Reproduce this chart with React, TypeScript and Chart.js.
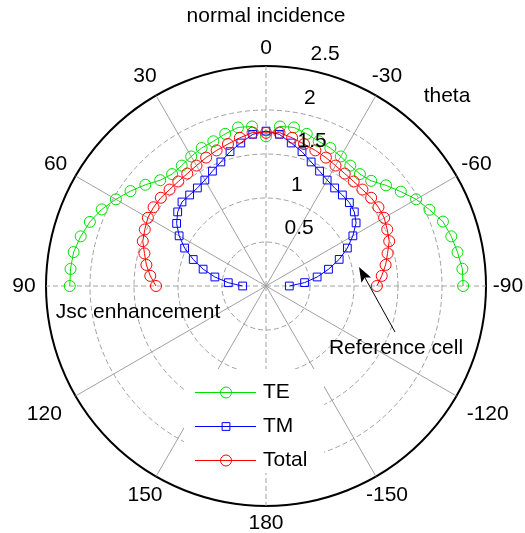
import React, { useEffect, useRef } from 'react';
import { Chart, registerables } from 'chart.js';

Chart.register(...registerables);

// Incidence angle (degrees), left half (+90 .. +5), normal (0), right half (-5 .. -90)
const thetaDeg = [
  90, 85, 80, 75, 70, 65, 60, 55, 50, 45, 40, 35, 30, 25, 20, 15, 10, 5,
  0,
  -5, -10, -15, -20, -25, -30, -35, -40, -45, -50, -55, -60, -65, -70, -75, -80, -85, -90,
];

const teValues = [
  2.23, 2.23, 2.22, 2.18, 2.13, 2.06, 1.97, 1.88, 1.79, 1.70, 1.66, 1.67, 1.70, 1.73, 1.75, 1.79, 1.83, 1.82,
  1.70,
  1.82, 1.83, 1.79, 1.75, 1.73, 1.70, 1.67, 1.66, 1.69, 1.78, 1.87, 1.97, 2.05, 2.14, 2.18, 2.21, 2.24, 2.24,
];

const tmValues = [
  0.265, 0.43, 0.59, 0.74, 0.88, 1.02, 1.14, 1.24, 1.31, 1.35, 1.35, 1.36, 1.39, 1.44, 1.50, 1.58, 1.65, 1.73,
  1.76,
  1.73, 1.65, 1.58, 1.50, 1.44, 1.39, 1.36, 1.35, 1.34, 1.31, 1.25, 1.14, 1.02, 0.885, 0.735, 0.59, 0.44, 0.265,
];

const totalValues = [
  1.25, 1.32, 1.38, 1.43, 1.49, 1.52, 1.55, 1.56, 1.56, 1.55, 1.55, 1.56, 1.58, 1.61, 1.64, 1.67, 1.71, 1.75,
  1.74,
  1.75, 1.71, 1.67, 1.64, 1.61, 1.58, 1.56, 1.55, 1.55, 1.56, 1.56, 1.55, 1.52, 1.49, 1.43, 1.38, 1.32, 1.26,
];

const seriesNames = ['TE', 'TM', 'Total'];
const seriesColors = ['#00e000', '#0000ff', '#ff0000'];
const seriesMarkers = ['circle', 'rect', 'circle'];

// Angular tick labels, clockwise from the top
const angleTickLabels = ['0', '-30', '-60', '-90', '-120', '-150', '180', '150', '120', '90', '60', '30'];
// distance (px) of each angular label centre from the pole
const angleLabelRadius = [238, 242, 243, 242, 256, 242, 237, 242, 256, 242, 243, 242];
const radialTickValues = [0.5, 1, 1.5, 2, 2.5];
const radialTickLabels = ['0.5', '1', '1.5', '2', '2.5'];
const RADIAL_MAX = 2.5;
const ANGLE_STEP = 5;
const SLOT_COUNT = 360 / ANGLE_STEP;
const LABEL_EVERY = 30 / ANGLE_STEP;

const FONT = '"Liberation Sans", Arial, Helvetica, sans-serif';

function slotOf(theta: number) {
  const cw = (((-theta) % 360) + 360) % 360;
  return Math.round(cw / ANGLE_STEP);
}

function toSlots(values: number[]) {
  const arr: (number | null)[] = new Array(SLOT_COUNT).fill(null);
  thetaDeg.forEach((t, i) => {
    arr[slotOf(t)] = values[i];
  });
  return arr;
}

const slotLabels = Array.from({ length: SLOT_COUNT }, (_, i) => {
  const cw = i * ANGLE_STEP;
  return cw === 180 ? '180' : String(cw < 180 ? -cw : 360 - cw);
});

const decorPlugin = {
  id: 'polarDecor',
  beforeDatasetsDraw(chart: any) {
    const ctx = chart.ctx;
    ctx.save();
    ctx.fillStyle = '#ffffff';
    ctx.fillRect(184, 369, 140, 104);
    ctx.restore();
  },
  afterDraw(chart: any) {
    const ctx = chart.ctx;
    const scale = chart.scales.r;
    const cx = scale.xCenter;
    const cy = scale.yCenter;
    ctx.save();
    ctx.font = `21px ${FONT}`;
    ctx.fillStyle = '#000';
    ctx.textBaseline = 'middle';

    // angular labels
    ctx.textAlign = 'center';
    angleTickLabels.forEach((lab, k) => {
      const p = scale.getPointPosition(k * LABEL_EVERY, angleLabelRadius[k]);
      ctx.fillText(lab, p.x, p.y);
    });

    // radial labels
    ctx.textAlign = 'left';
    radialTickValues.forEach((v, i) => {
      const rp = scale.getDistanceFromCenterForValue(v);
      ctx.fillText(radialTickLabels[i], cx + 12 + 0.148 * rp, cy - 0.99 * rp - 14);
    });

    // titles / annotations
    ctx.textAlign = 'center';
    ctx.fillText('normal incidence', cx, 16);
    ctx.fillText('theta', 447, 96);
    ctx.fillText('Jsc enhancement', 138, 312);
    ctx.fillText('Reference cell', 396, 348);

    // arrow
    ctx.strokeStyle = '#000';
    ctx.lineWidth = 1;
    const x1 = 395, y1 = 332, x2 = 359, y2 = 267;
    const ang = Math.atan2(y2 - y1, x2 - x1);
    ctx.beginPath();
    ctx.moveTo(x1, y1);
    ctx.lineTo(x2 + 10 * Math.cos(ang + Math.PI), y2 + 10 * Math.sin(ang + Math.PI));
    ctx.stroke();
    ctx.beginPath();
    ctx.moveTo(x2, y2);
    const hl = 15, hw = 5.5;
    const bx = x2 - hl * Math.cos(ang), by = y2 - hl * Math.sin(ang);
    ctx.lineTo(bx + hw * Math.sin(ang), by - hw * Math.cos(ang));
    ctx.lineTo(bx + 3 * Math.cos(ang), by + 3 * Math.sin(ang));
    ctx.lineTo(bx - hw * Math.sin(ang), by + hw * Math.cos(ang));
    ctx.closePath();
    ctx.fillStyle = '#000';
    ctx.fill();

    // legend
    const ly = [392, 426, 460];
    seriesNames.forEach((name, i) => {
      const y = ly[i];
      ctx.strokeStyle = seriesColors[i];
      ctx.lineWidth = 1;
      ctx.beginPath();
      ctx.moveTo(195, y + 0.5);
      ctx.lineTo(256, y + 0.5);
      ctx.stroke();
      ctx.beginPath();
      if (seriesMarkers[i] === 'rect') {
        const s = 5.5 * Math.SQRT1_2;
        ctx.rect(226 - s, y + 0.5 - s, 2 * s, 2 * s);
      } else {
        ctx.arc(226, y + 0.5, 5.5, 0, Math.PI * 2);
      }
      ctx.stroke();
      ctx.fillStyle = '#000';
      ctx.textAlign = 'left';
      ctx.fillText(name, 263, y);
    });
    ctx.restore();
  },
};

export default function App() {
  const ref = useRef<HTMLCanvasElement | null>(null);

  useEffect(() => {
    document.body.style.margin = '0';
    const canvas = ref.current;
    if (!canvas) return;
    const seriesValues = [teValues, tmValues, totalValues];
    const chart = new Chart(canvas, {
      type: 'radar',
      data: {
        labels: slotLabels,
        datasets: seriesNames.map((name, i) => ({
          label: name,
          data: toSlots(seriesValues[i]),
          borderColor: seriesColors[i],
          backgroundColor: 'rgba(0,0,0,0)',
          borderWidth: 1,
          fill: false,
          tension: 0,
          spanGaps: false,
          pointStyle: seriesMarkers[i],
          pointRadius: 5.5,
          pointBorderWidth: 1,
          pointBorderColor: seriesColors[i],
          pointBackgroundColor: 'rgba(0,0,0,0)',
          order: 3 - i,
        })),
      },
      options: {
        responsive: false,
        animation: false,
        events: [],
        layout: { padding: { left: 46, right: 39, top: 66, bottom: 27 } },
        plugins: { legend: { display: false }, tooltip: { enabled: false } },
        scales: {
          r: {
            min: 0,
            max: RADIAL_MAX,
            startAngle: 0,
            ticks: { display: false, stepSize: 0.5 },
            pointLabels: { display: false },
            grid: {
              circular: true,
              color: (c: any) => (c.tick && c.tick.value === RADIAL_MAX ? '#000000' : '#a0a0a0'),
              lineWidth: (c: any) => (c.tick && c.tick.value === RADIAL_MAX ? 2 : 1),
            },
            border: {
              dash: (c: any) => (c.tick && c.tick.value === RADIAL_MAX ? [] : [5, 3]),
            },
            angleLines: {
              display: true,
              color: '#a0a0a0',
              lineWidth: (c: any) => (c.index % LABEL_EVERY === 0 ? 1 : 0),
              borderDash: (c: any) => (c.index % (3 * LABEL_EVERY) === 0 ? [5, 3] : []),
            },
          },
        },
      },
      plugins: [decorPlugin],
    } as any);
    return () => chart.destroy();
  }, []);

  return (
    <div style={{ width: 525, height: 533 }}>
      <canvas ref={ref} width={525} height={533} style={{ display: 'block' }} />
    </div>
  );
}
